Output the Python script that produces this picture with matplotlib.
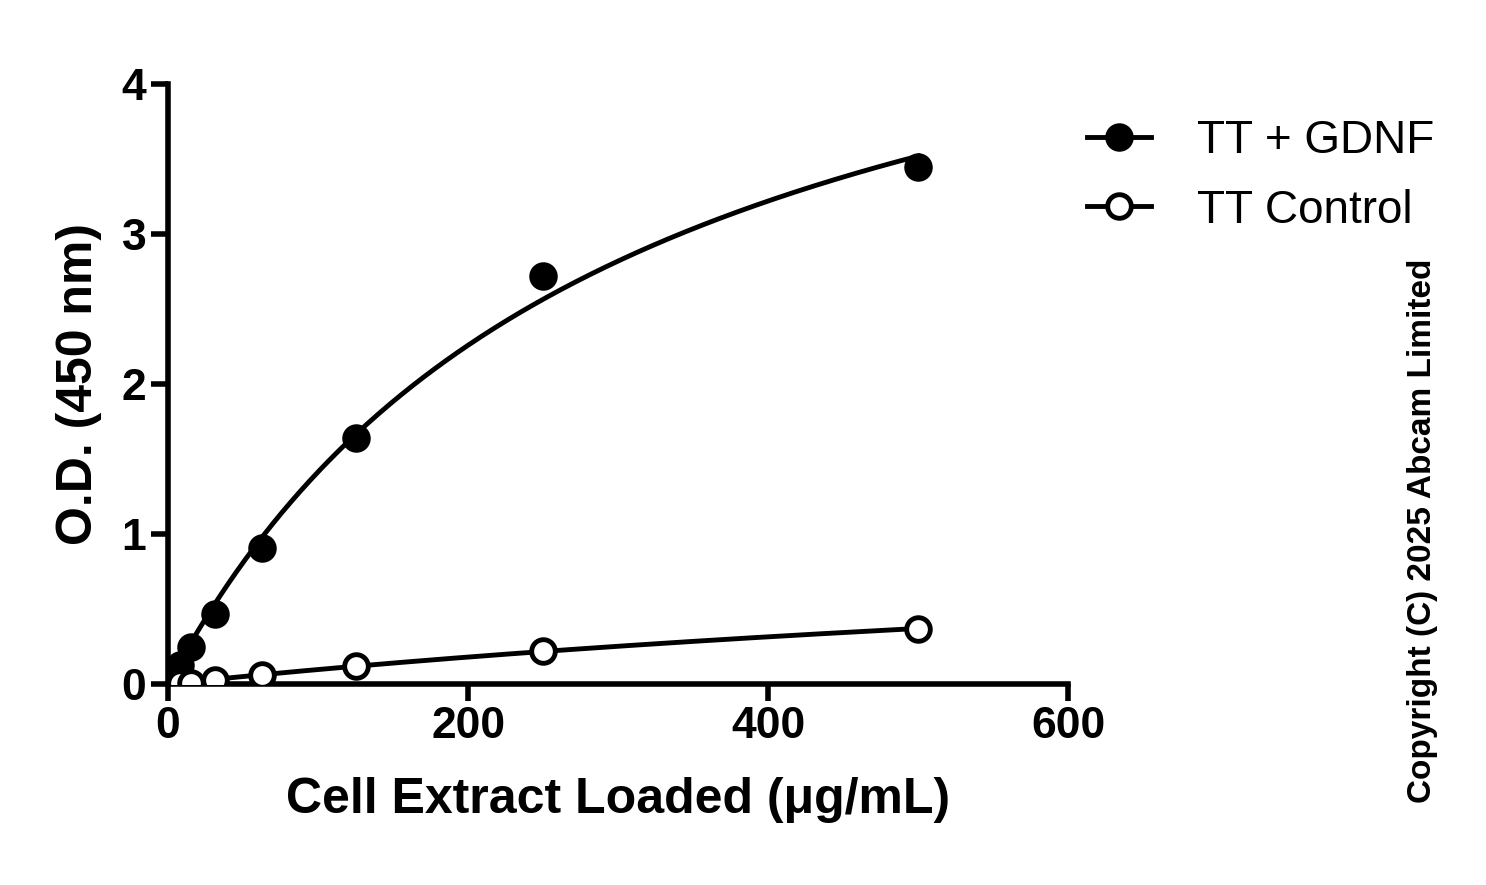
import numpy as np
import matplotlib
matplotlib.use("Agg")
import matplotlib.pyplot as plt

plt.rcParams['font.family'] = ['Liberation Sans', 'DejaVu Sans']

conc = [0, 3.9, 7.8, 15.6, 31.25, 62.5, 125, 250, 500]
gdnf = [0.0, 0.07, 0.13, 0.25, 0.47, 0.91, 1.64, 2.72, 3.45]
ctrl = [0.0, 0.0, 0.01, 0.01, 0.03, 0.06, 0.12, 0.22, 0.37]

def fit(x, y):
    x = np.asarray(x, float); y = np.asarray(y, float)
    best = None
    for K in np.linspace(10, 5000, 5000):
        f = x / (K + x)
        V = (f @ y) / (f @ f)
        err = np.sum((V * f - y) ** 2)
        if best is None or err < best[0]:
            best = (err, V, K)
    return best[1], best[2]

fig = plt.figure(figsize=(14.86, 8.85), dpi=100)
ax = fig.add_axes([0.113, 0.227, 0.606, 0.678])
xs = np.linspace(0, 500, 400)
for y, fc, lab in [(gdnf, 'black', 'TT + GDNF'), (ctrl, 'white', 'TT Control')]:
    V, K = fit(conc, y)
    ax.plot(xs, V * xs / (K + xs), color='black', lw=3.5, zorder=2)
    ax.plot(conc, y, 'o', ms=17, mfc=fc, mec='black', mew=3.5, zorder=3)
    ax.plot([], [], '-o', color='black', lw=3.5, ms=17, mfc=fc, mec='black', mew=3.5, label=lab)

ax.set_xlim(0, 600)
ax.set_ylim(0, 4)
ax.set_xticks([0, 200, 400, 600])
ax.set_yticks([0, 1, 2, 3, 4])
for s in ['top', 'right']:
    ax.spines[s].set_visible(False)
for s in ['left', 'bottom']:
    ax.spines[s].set_linewidth(4)
ax.tick_params(width=4, length=12, labelsize=32, direction='out')
for t in ax.get_xticklabels() + ax.get_yticklabels():
    t.set_fontweight('bold')
ax.set_xlabel('Cell Extract Loaded (μg/mL)', fontsize=36, fontweight='bold', labelpad=22)
ax.set_ylabel('O.D. (450 nm)', fontsize=36, fontweight='bold', labelpad=14)
ax.legend(loc='upper left', bbox_to_anchor=(0.975, 1.01), frameon=False, fontsize=33,
          handlelength=1.4, handletextpad=1.0, labelspacing=0.55)
fig.text(0.957, 0.40, 'Copyright (C) 2025 Abcam Limited', rotation=90, fontsize=24,
         fontweight='bold', ha='center', va='center')
fig.savefig('out.png', dpi=100)
